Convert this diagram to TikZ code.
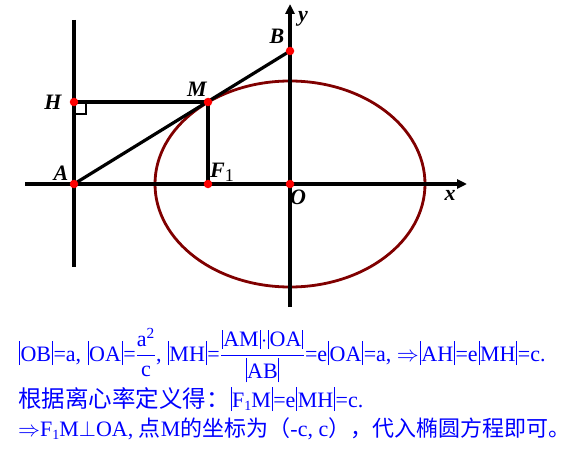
\documentclass[tikz,border=0pt]{standalone}
\usepackage{fix-cm}
\usepackage{amsmath}
\usepackage{fontspec}
\setmainfont{Liberation Serif}
\newfontfamily\cjk{Noto Sans CJK SC}
\usetikzlibrary{arrows.meta}
\definecolor{ellred}{RGB}{128,0,0}
\definecolor{txtblue}{RGB}{0,0,255}
\newcommand\vb{\hspace{0.8pt}\rule[-4pt]{0.8pt}{24pt}\hspace{0.8pt}}
\newcommand\vbs{\hspace{0.8pt}\rule[-3pt]{0.8pt}{19pt}\hspace{0.8pt}}
\newcommand\sub[1]{\raisebox{-3pt}{\fontsize{14}{14}\selectfont #1}}

\begin{document}
\begin{tikzpicture}[x=1pt,y=-1pt,
  axis/.style={line width=3.2pt,-{Triangle[length=10pt,width=9pt]}},
  ln/.style={line width=3.2pt},
  pnt/.style={circle,fill=red,inner sep=0pt,minimum size=8.5pt},
  lbl/.style={inner sep=0pt,font=\fontsize{22}{22}\selectfont\bfseries\itshape},
  txt/.style={anchor=base west,inner sep=0pt,text=txtblue,font=\fontsize{22}{24}\selectfont}]
    %%%%% START %%%%%
    \useasboundingbox (0,0) rectangle (572,449);

    \coordinate (O) at (290,184);
    \coordinate (A) at (74,184);
    \coordinate (H) at (74,102);
    \coordinate (M) at (208,102);
    \coordinate (F1) at (208,184);
    \coordinate (B) at (290,51);
    \coordinate (xs) at (25,184);
    \coordinate (xe) at (467,184);
    \coordinate (ys) at (290,307);
    \coordinate (ye) at (290,4);
    \coordinate (lt) at (74,20);
    \coordinate (lb) at (74,267);

    \draw[ellred,line width=2.8pt] (O) ellipse [x radius=135pt, y radius=103pt];

    \draw[axis] (xs) -- (xe);
    \draw[axis] (ys) -- (ye);
    \draw[ln] (lt) -- (lb);
    \draw[ln] (A) -- (B);
    \draw[ln] (H) -- (M) -- (F1);
    \draw[line width=2pt] (H) ++(0,12) -- ++(12,0) -- ++(0,-12);

    \foreach \p in {A,H,M,F1,O,B}
      \node[pnt] (d\p) at (\p) {};

    \node[lbl] (lB) at (277,36) {B};
    \node[lbl] (ly) at (303,19) {y};
    \node[lbl] (lH) at (53,102) {H};
    \node[lbl] (lM) at (197,89) {M};
    \node[lbl] (lA) at (61,173) {A};
    \node[lbl] (lF) at (222,172) {F\raisebox{-4pt}{\normalfont\fontsize{18}{18}\selectfont 1}};
    \node[lbl] (lO) at (298,197) {O};
    \node[lbl] (lx) at (450,195) {x};

    \node[txt] (line1) at (18,361) {\vb OB\vb=a, \vb OA\vb=$\dfrac{\text{a}^{\text{2}}}{\text{c}}$, \vb MH\vb=$\dfrac{\text{\vbs AM\vbs$\cdot$\vbs OA\vbs}}{\text{\vb AB\vb}}$=e\vb OA\vb=a, $\Rightarrow$\vb AH\vb=e\vb MH\vb=c.};
    \node[txt] (line2) at (18,407) {{\cjk\fontsize{23.5}{24}\selectfont 根据离心率定义得：}\vb F\sub{1}M\vb=e\vb MH\vb=c.};
    \node[txt] (line3) at (18,436) {$\Rightarrow$F\sub{1}M$\perp$OA, {\cjk 点}M{\cjk 的坐标为（}-c, c{\cjk ），代入椭圆方程即可。}};
    %%%%% END %%%%%
\end{tikzpicture}
\end{document}
